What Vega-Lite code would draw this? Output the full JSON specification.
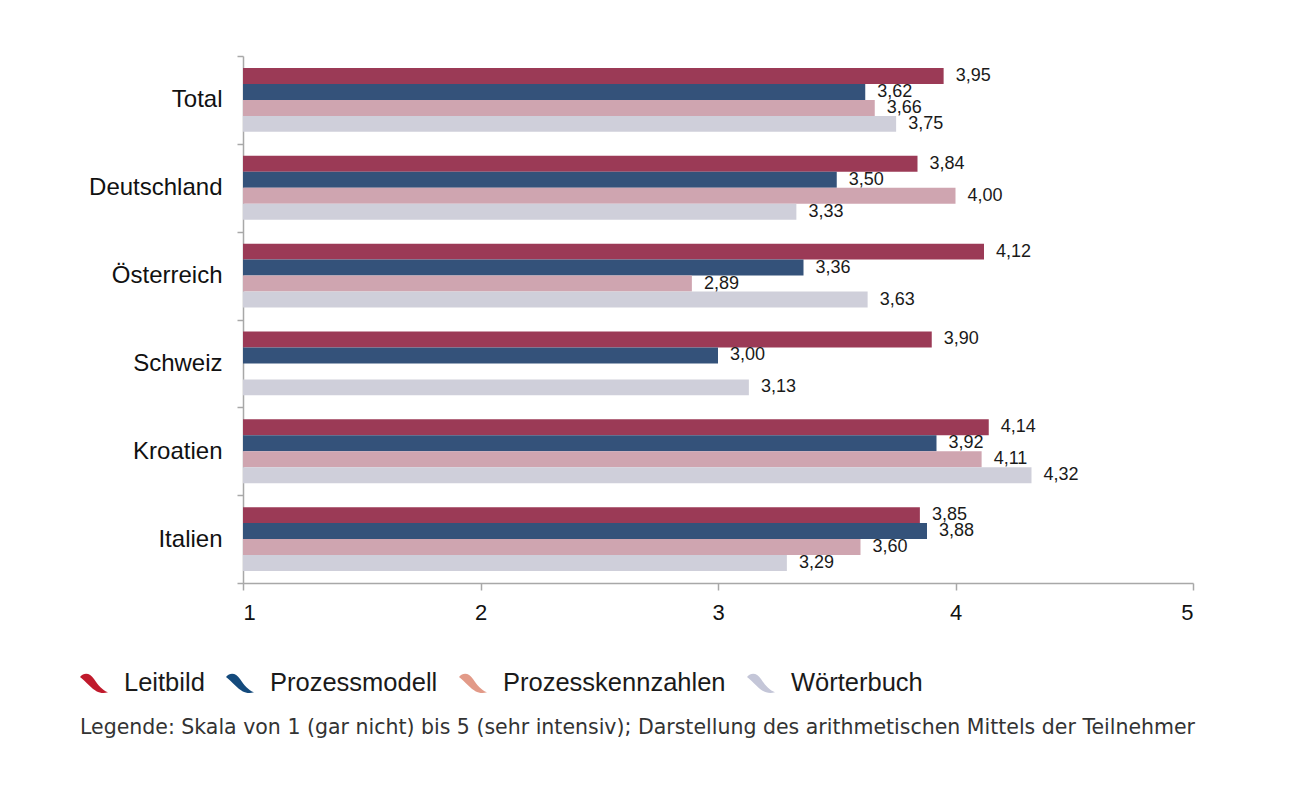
{
  "$schema": "https://vega.github.io/schema/vega-lite/v6.json",
  "width": 950,
  "height": 527,
  "autosize": "none",
  "padding": {"left": 243, "top": 56, "right": 100, "bottom": 208},
  "background": "white",
  "config": {
    "locale": {"number": {"decimal": ",", "thousands": ".", "grouping": [3], "currency": ["", " €"]}},
    "font": "Liberation Sans",
    "view": {"stroke": null}
  },
  "data": {
    "values": [
      {"land": "Total", "kategorie": "Leitbild", "wert": 3.95},
      {"land": "Total", "kategorie": "Prozessmodell", "wert": 3.62},
      {"land": "Total", "kategorie": "Prozesskennzahlen", "wert": 3.66},
      {"land": "Total", "kategorie": "Wörterbuch", "wert": 3.75},
      {"land": "Deutschland", "kategorie": "Leitbild", "wert": 3.84},
      {"land": "Deutschland", "kategorie": "Prozessmodell", "wert": 3.50},
      {"land": "Deutschland", "kategorie": "Prozesskennzahlen", "wert": 4.00},
      {"land": "Deutschland", "kategorie": "Wörterbuch", "wert": 3.33},
      {"land": "Österreich", "kategorie": "Leitbild", "wert": 4.12},
      {"land": "Österreich", "kategorie": "Prozessmodell", "wert": 3.36},
      {"land": "Österreich", "kategorie": "Prozesskennzahlen", "wert": 2.89},
      {"land": "Österreich", "kategorie": "Wörterbuch", "wert": 3.63},
      {"land": "Schweiz", "kategorie": "Leitbild", "wert": 3.90},
      {"land": "Schweiz", "kategorie": "Prozessmodell", "wert": 3.00},
      {"land": "Schweiz", "kategorie": "Wörterbuch", "wert": 3.13},
      {"land": "Kroatien", "kategorie": "Leitbild", "wert": 4.14},
      {"land": "Kroatien", "kategorie": "Prozessmodell", "wert": 3.92},
      {"land": "Kroatien", "kategorie": "Prozesskennzahlen", "wert": 4.11},
      {"land": "Kroatien", "kategorie": "Wörterbuch", "wert": 4.32},
      {"land": "Italien", "kategorie": "Leitbild", "wert": 3.85},
      {"land": "Italien", "kategorie": "Prozessmodell", "wert": 3.88},
      {"land": "Italien", "kategorie": "Prozesskennzahlen", "wert": 3.60},
      {"land": "Italien", "kategorie": "Wörterbuch", "wert": 3.29}
    ]
  },
  "encoding": {
    "y": {
      "field": "land",
      "type": "nominal",
      "sort": ["Total", "Deutschland", "Österreich", "Schweiz", "Kroatien", "Italien"],
      "scale": {"paddingInner": 0, "paddingOuter": 0},
      "axis": {
        "title": null,
        "tickBand": "extent",
        "domainColor": "#a8a8a8",
        "domainWidth": 1.5,
        "tickColor": "#a8a8a8",
        "tickWidth": 1.5,
        "tickSize": 6,
        "labelFontSize": 24,
        "labelColor": "#111111",
        "labelPadding": 15,
        "labelLimit": 300
      }
    },
    "yOffset": {
      "field": "kategorie",
      "type": "nominal",
      "sort": ["Leitbild", "Prozessmodell", "Prozesskennzahlen", "Wörterbuch"],
      "scale": {"paddingInner": 0, "paddingOuter": 0.75}
    },
    "x": {
      "field": "wert",
      "type": "quantitative",
      "scale": {"domain": [1, 5], "zero": false, "nice": false},
      "axis": {
        "title": null,
        "values": [1, 2, 3, 4, 5],
        "format": "d",
        "grid": false,
        "domainColor": "#a8a8a8",
        "domainWidth": 1.5,
        "tickColor": "#a8a8a8",
        "tickWidth": 1.5,
        "tickSize": 7,
        "labelFontSize": 22,
        "labelColor": "#111111",
        "labelPadding": 12
      }
    }
  },
  "resolve": {"scale": {"color": "independent"}},
  "layer": [
    {
      "mark": {"type": "bar"},
      "encoding": {
        "x2": {"datum": 1},
        "color": {
          "field": "kategorie",
          "type": "nominal",
          "scale": {
            "domain": ["Leitbild", "Prozessmodell", "Prozesskennzahlen", "Wörterbuch"],
            "range": ["#9b3a56", "#34527a", "#cfa5b0", "#cfcfda"]
          },
          "legend": null
        }
      }
    },
    {
      "mark": {"type": "text", "align": "left", "baseline": "middle", "dx": 12, "fontSize": 18, "color": "#1a1a1a"},
      "encoding": {
        "text": {"field": "wert", "type": "quantitative", "format": ".2f"}
      }
    },
    {
      "mark": {"type": "point", "filled": true, "opacity": 0},
      "encoding": {
        "color": {
          "field": "kategorie",
          "type": "nominal",
          "scale": {
            "domain": ["Leitbild", "Prozessmodell", "Prozesskennzahlen", "Wörterbuch"],
            "range": ["#c01a2c", "#144a7c", "#e29a88", "#c4c6d8"]
          },
          "legend": {
            "orient": "none",
            "direction": "horizontal",
            "legendX": -163,
            "legendY": 613,
            "columnPadding": 21,
            "labelOffset": 16,
            "symbolType": "M -1 -0.45 C -0.7 -0.8 -0.3 -0.75 0 -0.3 C 0.3 0.15 0.6 0.5 1 0.65 C 0.5 0.8 0.1 0.6 -0.3 0.2 C -0.6 -0.1 -0.8 -0.3 -1 -0.45 Z",
            "symbolSize": 784,
            "symbolOpacity": 1,
            "symbolStrokeWidth": 0,
            "labelFontSize": 25.5,
            "labelColor": "#1a1a1a",
            "labelLimit": 400,
            "title": "Legende: Skala von 1 (gar nicht) bis 5 (sehr intensiv); Darstellung des arithmetischen Mittels der Teilnehmer",
            "titleOrient": "bottom",
            "titleAnchor": "start",
            "titleFont": "DejaVu Sans",
            "titleFontSize": 20.5,
            "titleFontWeight": "normal",
            "titleColor": "#333333",
            "titlePadding": 21,
            "titleLimit": 2000
          }
        }
      }
    }
  ]
}
